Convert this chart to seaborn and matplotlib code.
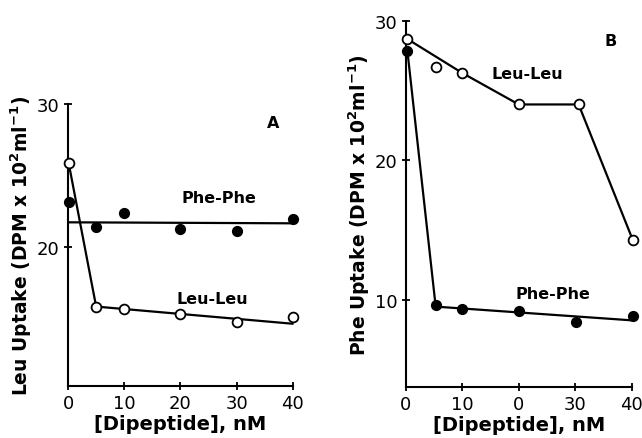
import matplotlib
matplotlib.use("Agg")
import matplotlib.pyplot as plt
import seaborn as sns
import pandas as pd

sns.set_style("ticks")
plt.rcParams['font.family'] = ['DejaVu Sans']
plt.rcParams['text.color'] = 'black'
plt.rcParams['axes.labelcolor'] = 'black'
plt.rcParams['xtick.color'] = 'black'
plt.rcParams['ytick.color'] = 'black'
plt.rcParams['axes.edgecolor'] = 'black'

# ---- Panel A data (Leu uptake) ----
a_x = [0.1, 5, 10, 20, 30, 40]
a_leu = [25.9, 15.85, 15.65, 15.3, 14.8, 15.1]
a_phe = [23.15, 21.4, 22.4, 21.25, 21.15, 21.95]
a_leu_fit_x = [0.1, 5, 40]
a_leu_fit_y = [25.9, 15.85, 14.65]
a_phe_fit_x = [0, 40]
a_phe_fit_y = [21.74, 21.67]

# ---- Panel B data (Phe uptake) ----
b_leu_x = [0.2, 5.4, 10, 20, 30.6, 40.2]
b_leu = [28.7, 26.7, 26.25, 24.0, 24.0, 14.3]
b_phe_x = [0.3, 5.3, 10, 20, 30.2, 40.2]
b_phe = [27.8, 9.65, 9.35, 9.25, 8.45, 8.9]
b_leu_fit_x = [0.2, 10, 20, 30.6, 40.2]
b_leu_fit_y = [28.7, 26.25, 24.0, 24.0, 14.3]
b_phe_fit_x = [0.3, 5.3, 40]
b_phe_fit_y = [27.8, 9.55, 8.57]

x_ticks = [0, 10, 20, 30, 40]
a_xticklabels = ["0", "10", "20", "30", "40"]
b_xticklabels = ["0", "10", "0", "30", "40"]
a_yticks = [20, 30]
b_yticks = [10, 20, 30]

fig = plt.figure(figsize=(6.42, 4.39), dpi=100)
axA = fig.add_axes([0.106, 0.1185, 0.350, 0.642])
axB = fig.add_axes([0.632, 0.116, 0.352, 0.835])

lw = 1.6
ms = 9.5

def draw(ax, fx1, fy1, fx2, fy2, ox, oy, fx, fy):
    sns.lineplot(x=fx1, y=fy1, ax=ax, color="black", lw=lw, sort=False,
                 estimator=None, clip_on=False)
    sns.lineplot(x=fx2, y=fy2, ax=ax, color="black", lw=lw, sort=False,
                 estimator=None, clip_on=False)
    sns.scatterplot(x=ox, y=oy, ax=ax, s=ms**2 * 0.55, facecolor="white",
                    edgecolor="black", linewidth=1.3, zorder=5, clip_on=False)
    sns.scatterplot(x=fx, y=fy, ax=ax, s=ms**2 * 0.55, color="black",
                    edgecolor="black", linewidth=1.0, zorder=5, clip_on=False)

draw(axA, a_leu_fit_x, a_leu_fit_y, a_phe_fit_x, a_phe_fit_y,
     a_x, a_leu, a_x, a_phe)
draw(axB, b_leu_fit_x, b_leu_fit_y, b_phe_fit_x, b_phe_fit_y,
     b_leu_x, b_leu, b_phe_x, b_phe)

axA.set_xlim(0, 40)
axA.set_ylim(10.3, 30)
axB.set_xlim(0, 40)
axB.set_ylim(3.8, 30)

for ax, xtl, yt in [(axA, a_xticklabels, a_yticks), (axB, b_xticklabels, b_yticks)]:
    sns.despine(ax=ax)
    ax.spines['left'].set_linewidth(1.5)
    ax.spines['bottom'].set_linewidth(1.5)
    ax.set_xticks(x_ticks)
    ax.set_xticklabels(xtl)
    ax.set_yticks(yt)
    ax.tick_params(axis='both', direction='inout', length=6, width=1.3,
                   labelsize=13, pad=3, colors='black')
    ax.set_xlabel("[Dipeptide], nM", fontsize=14, fontweight='bold', labelpad=1)

axA.set_ylabel(r"Leu Uptake (DPM x 10$^\mathbf{2}$ml$^\mathbf{-1}$)",
               fontsize=13.5, fontweight='bold', labelpad=2)
axB.set_ylabel(r"Phe Uptake (DPM x 10$^\mathbf{2}$ml$^\mathbf{-1}$)",
               fontsize=13.5, fontweight='bold', labelpad=2)

kw = dict(fontsize=11.5, fontweight='bold', ha='center', va='center', color='black')
axA.text(26.8, 23.5, "Phe-Phe", **kw)
axA.text(25.6, 16.4, "Leu-Leu", **kw)
axA.text(36.5, 28.7, "A", **kw)
axB.text(21.6, 26.2, "Leu-Leu", **kw)
axB.text(26.0, 10.5, "Phe-Phe", **kw)
axB.text(36.3, 28.6, "B", **kw)

fig.savefig("out.png", dpi=100)
